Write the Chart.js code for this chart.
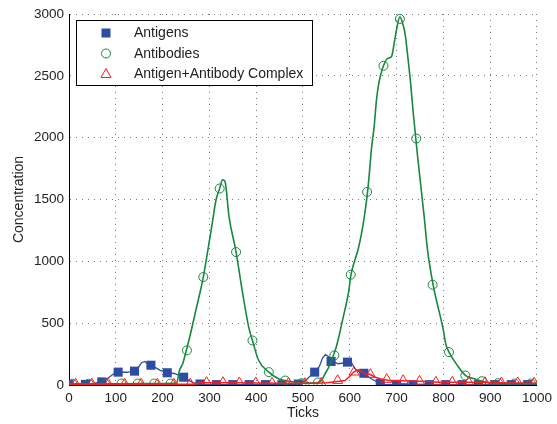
<!DOCTYPE html>
<html>
<head>
<meta charset="utf-8">
<script src="https://cdn.jsdelivr.net/npm/chart.js@4.4.1/dist/chart.umd.min.js"></script>
<style>
  html, body { margin: 0; padding: 0; background: #fff; }
  #wrap { position: relative; width: 557px; height: 424px; }
</style>
</head>
<body>
<div id="wrap"><canvas id="c" width="557" height="424"></canvas></div>
<script>
// Axis ticks
const xTicks = [0, 100, 200, 300, 400, 500, 600, 700, 800, 900, 1000];
const yTicks = [0, 500, 1000, 1500, 2000, 2500, 3000];
const seriesNames = ['Antigens', 'Antibodies', 'Antigen+Antibody Complex'];

// Simulated trajectories: [tick, concentration]
const antigenCurve = [
  [0, 2], [45, 4], [55, 15], [70, 25], [85, 60], [97, 95], [110, 104], [125, 103],
  [138, 115], [148, 140], [155, 180], [162, 190], [170, 165], [180, 150], [195, 118],
  [210, 100], [225, 93], [240, 72], [252, 45], [265, 20], [280, 7], [300, 3], [480, 3],
  [495, 12], [505, 35], [515, 70], [525, 104], [535, 150], [542, 220], [548, 245],
  [555, 228], [562, 195], [575, 172], [590, 180], [603, 185], [611, 131], [625, 92],
  [635, 80], [646, 50], [660, 22], [675, 5], [700, 3], [1000, 3]
];
const antibodyCurve = [
  [0, 10], [100, 10], [200, 12], [230, 15], [236, 117], [243, 172], [250, 270],
  [260, 420], [271, 603], [287, 873], [299, 1143], [306, 1305], [314, 1494], [322, 1590],
  [328, 1660], [333, 1650], [342, 1360], [357, 1075], [370, 765], [384, 468], [392, 360],
  [405, 200], [427, 104], [448, 50], [462, 36], [483, 23], [500, 15], [530, 18], [540, 40],
  [547, 90], [557, 160], [565, 239], [572, 320], [586, 549], [598, 765], [602, 880],
  [618, 1100], [625, 1224], [632, 1386], [638, 1561], [643, 1764], [646, 1899], [652, 2088],
  [657, 2304], [662, 2439], [667, 2520], [672, 2581], [681, 2641], [689, 2654], [696, 2790],
  [701, 2897], [707, 2978], [713, 2924], [718, 2844], [724, 2654], [730, 2439], [735, 2223],
  [740, 2034], [745, 1845], [752, 1601], [759, 1359], [766, 1095], [778, 811], [800, 441],
  [805, 333], [812, 266], [830, 158], [847, 77], [866, 50], [883, 31], [901, 15],
  [950, 12], [1000, 12]
];
const complexCurve = [
  [0, 6], [120, 6], [270, 6], [278, 18], [350, 18], [450, 15], [530, 14], [550, 18],
  [565, 25], [590, 36], [600, 70], [608, 105], [618, 123], [625, 110], [632, 92],
  [644, 85], [653, 65], [665, 50], [681, 38], [714, 35], [750, 30], [790, 23], [850, 22],
  [900, 20], [950, 17], [1000, 15]
];

// Marker samples along each trajectory
const antigenMarkTicks = [0, 35, 70, 105, 140, 175, 210, 245, 280, 315, 350, 385, 420, 455, 490,
  525, 560, 595, 630, 665, 700, 735, 770, 805, 840, 875, 910, 945, 980];
const antigenMarks = [3, 5, 25, 104, 112, 160, 99, 63, 8, 3, 3, 3, 3, 3, 8,
  104, 190, 185, 95, 12, 3, 3, 3, 3, 3, 3, 3, 3, 3];

const antibodyMarkTicks = [7, 42, 77, 112, 147, 182, 217, 252, 287, 322, 357, 392, 427, 462, 497,
  532, 567, 602, 637, 672, 707, 742, 777, 812, 847, 882, 917, 952, 987];
const antibodyMarks = [10, 10, 10, 12, 12, 12, 12, 280, 873, 1589, 1075, 360, 104, 36, 15,
  20, 239, 892, 1561, 2581, 2960, 1993, 811, 266, 77, 31, 15, 12, 12];

const complexMarkTicks = [14, 49, 84, 119, 154, 189, 224, 259, 294, 329, 364, 399, 434, 469, 504,
  539, 574, 609, 644, 679, 714, 749, 784, 819, 854, 889, 924, 959, 994];
const complexMarks = [8, 8, 8, 8, 8, 8, 8, 8, 20, 20, 18, 18, 15, 15, 12,
  15, 36, 104, 85, 45, 36, 31, 23, 23, 23, 20, 18, 18, 15];

const BLUE = '#2c4da3';
const GREEN = '#17883c';
const RED = '#ff1c1c';
const FONT = "'Liberation Sans', Arial, Helvetica, sans-serif";
const TEXT = '#222';

const toXY = (ticks, vals) => ticks.map((t, i) => ({ x: t, y: vals[i] }));
const fromPairs = arr => arr.map(([x, y]) => ({ x, y }));

// Boxed legend in the upper-left corner of the plot
const boxLegend = {
  id: 'boxLegend',
  afterDatasetsDraw(chart) {
    const ctx = chart.ctx;
    const x0 = 76.5, y0 = 20.5, w = 236, h = 65;
    ctx.save();
    ctx.fillStyle = '#fff';
    ctx.fillRect(x0, y0, w, h);
    ctx.strokeStyle = '#000';
    ctx.lineWidth = 1;
    ctx.strokeRect(x0, y0, w, h);
    const rows = [33, 53.5, 74];
    const mx = 106;
    // square
    ctx.fillStyle = BLUE;
    ctx.fillRect(mx - 4.5, rows[0] - 4.5, 9, 9);
    // circle
    ctx.strokeStyle = GREEN;
    ctx.beginPath();
    ctx.arc(mx, rows[1], 4.5, 0, Math.PI * 2);
    ctx.stroke();
    // triangle
    ctx.strokeStyle = RED;
    ctx.beginPath();
    ctx.moveTo(mx, rows[2] - 5.5);
    ctx.lineTo(mx + 5, rows[2] + 3.5);
    ctx.lineTo(mx - 5, rows[2] + 3.5);
    ctx.closePath();
    ctx.stroke();
    ctx.fillStyle = TEXT;
    ctx.font = '14px ' + FONT;
    ctx.textBaseline = 'middle';
    ctx.textAlign = 'left';
    seriesNames.forEach((name, i) => ctx.fillText(name, 134, rows[i] + 0.5));
    ctx.restore();
  }
};

const plainLabel = v => String(v);

new Chart(document.getElementById('c'), {
  type: 'line',
  data: {
    datasets: [
      { label: seriesNames[0], data: toXY(antigenMarkTicks, antigenMarks), showLine: false,
        pointStyle: 'rect', pointRadius: 6.4, pointBackgroundColor: BLUE, pointBorderColor: BLUE,
        pointBorderWidth: 0, order: 4 },
      { label: seriesNames[1], data: toXY(antibodyMarkTicks, antibodyMarks), showLine: false,
        pointStyle: 'circle', pointRadius: 4.5, pointBackgroundColor: 'rgba(0,0,0,0)',
        pointBorderColor: GREEN, pointBorderWidth: 1, order: 2 },
      { label: seriesNames[2], data: toXY(complexMarkTicks, complexMarks), showLine: false,
        pointStyle: 'triangle', pointRadius: 5.8, pointBackgroundColor: 'rgba(0,0,0,0)',
        pointBorderColor: RED, pointBorderWidth: 1, order: 0 },
      { label: '', data: fromPairs(antigenCurve), borderColor: BLUE, borderWidth: 1.3,
        pointRadius: 0, tension: 0, order: 5 },
      { label: '', data: fromPairs(antibodyCurve), borderColor: GREEN, borderWidth: 1.6,
        pointRadius: 0, cubicInterpolationMode: 'monotone', order: 3 },
      { label: '', data: fromPairs(complexCurve), borderColor: RED, borderWidth: 1.5,
        pointRadius: 0, tension: 0, order: 1 }
    ]
  },
  options: {
    responsive: false,
    devicePixelRatio: 1,
    animation: false,
    layout: { padding: { top: 14, right: 17, left: 0, bottom: 0 } },
    plugins: { legend: { display: false }, tooltip: { enabled: false } },
    scales: {
      x: {
        type: 'linear', min: 0, max: 1000,
        afterBuildTicks: s => { s.ticks = xTicks.map(v => ({ value: v })); },
        afterFit: s => { s.height = 39; },
        ticks: { color: TEXT, font: { size: 13.5, family: FONT }, padding: 5, maxRotation: 0,
          autoSkip: false, callback: plainLabel },
        grid: { color: '#7a7a7a', lineWidth: 1, drawTicks: false },
        border: { display: true, color: '#000', width: 1, dash: [1, 5] },
        title: { display: true, text: 'Ticks', color: TEXT, font: { size: 14, family: FONT },
          padding: { top: 0, bottom: 2 } }
      },
      y: {
        type: 'linear', min: 0, max: 3000,
        afterBuildTicks: s => { s.ticks = yTicks.map(v => ({ value: v })); },
        afterFit: s => { s.width = 69; },
        ticks: { color: TEXT, font: { size: 13.5, family: FONT }, padding: 5, callback: plainLabel },
        grid: { color: '#7a7a7a', lineWidth: 1, drawTicks: false },
        border: { display: true, color: '#000', width: 1, dash: [1, 5] },
        title: { display: true, text: 'Concentration', color: TEXT, font: { size: 14, family: FONT },
          padding: { top: 10.5, bottom: 0 } }
      }
    }
  },
  plugins: [boxLegend]
});
</script>
</body>
</html>
